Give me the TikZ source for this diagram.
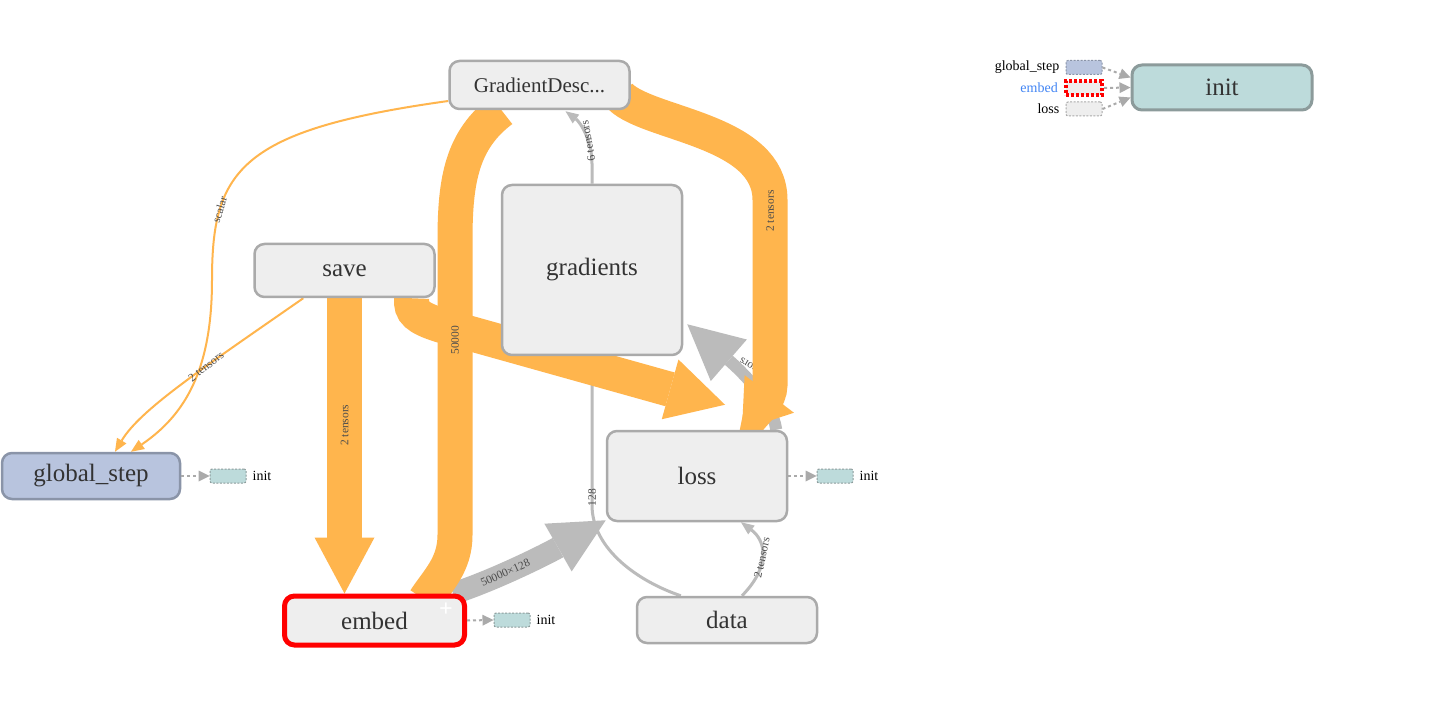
\documentclass[tikz,border=0pt]{standalone}
\usepackage{fontspec}
\setmainfont{Liberation Serif}
\usetikzlibrary{arrows.meta,positioning,calc}
\pgfdeclarelayer{paper}
\pgfdeclarelayer{edges}
\pgfsetlayers{paper,edges,main}
\definecolor{tforange}{HTML}{FFB54D}
\definecolor{tfgrey}{HTML}{BBBBBB}
\definecolor{nodefill}{HTML}{EEEEEE}
\definecolor{nodeline}{HTML}{AAAAAA}
\definecolor{inittint}{HTML}{BDDBDB}
\definecolor{initline}{HTML}{8C9B9B}
\definecolor{stepfill}{HTML}{B8C4DE}
\definecolor{stepline}{HTML}{8A94A8}
\definecolor{labelblue}{HTML}{4285F4}
\definecolor{txt}{HTML}{333333}

\begin{document}
\begin{tikzpicture}[x=1pt,y=-1pt,
  op/.style={draw=nodeline,line width=2.5pt,rounded corners=10pt,fill=nodefill,
    text=txt,font=\fontsize{25}{28}\selectfont,minimum width=180pt,
    minimum height=46pt,inner sep=0pt},
  stub/.style={draw=initline,dash pattern=on 2pt off 1.5pt,line width=1pt,
    rounded corners=2pt,fill=inittint,minimum width=36pt,minimum height=14pt,inner sep=0pt},
  tag/.style={font=\fontsize{14}{16}\selectfont,inner sep=0pt},
  elabel/.style={font=\fontsize{11.5}{13}\selectfont,text=black!70,inner sep=0pt},
  fat/.style={draw=tforange,line width=35pt},
  fatarr/.style={fat,-{Triangle[length=56pt,width=60pt,line width=0pt]}},
  thin/.style={draw=tforange,line width=2pt,-{Triangle[length=13pt,width=11pt,line width=0pt]}},
  ctrl/.style={draw=tfgrey,line width=3pt,-{Triangle[length=13pt,width=11pt,line width=0pt]}},
  ctrlfat/.style={draw=tfgrey,-{Triangle[length=55pt,width=55pt,line width=0pt]}},
  dep/.style={draw=nodeline,line width=2pt,dash pattern=on 3pt off 3pt,
    -{Triangle[length=11pt,width=11pt,line width=0pt]}},
]
\begin{pgfonlayer}{paper}
\fill[white] (0,0) rectangle (1432,708);
\end{pgfonlayer}
\useasboundingbox (0,0) rectangle (1432,708);

% main graph
\node[op,font=\fontsize{21}{24}\selectfont,minimum height=48pt] (gd) at (539.5,85) {GradientDesc...};
\node[op,minimum height=53pt] (save) at (344.5,270.5) {save};
\node[op,minimum height=170pt] (grads) at (592,270) {gradients};
\node[op,fill=stepfill,draw=stepline,minimum width=178pt] (gstep) at (91,476) {global\_step};
\node[op,minimum height=90pt] (loss) at (697,476) {loss};
\node[op,draw=red,line width=5pt,minimum height=49pt] (embed) at (374.5,620.5) {embed};
\node[op] (data) at (727,620) {data};
\node[text=white,font=\fontsize{24}{24}\selectfont\bfseries,inner sep=0pt] (embplus) at (446,610) {+};

% init dependencies
\node[stub] (gsinit) at (228,476) {};
\node[tag,right=6pt of gsinit] (gsinittxt) {init};
\node[stub] (lossinit) at (835,476) {};
\node[tag,right=6pt of lossinit] (lossinittxt) {init};
\node[stub] (embinit) at (512,620) {};
\node[tag,right=6pt of embinit] (embinittxt) {init};
\draw[dep] (gstep.east) -- (gsinit.west);
\draw[dep] (loss.east) -- (lossinit.west);
\draw[dep] (embed.east) -- (embinit.west);

% init node, top right
\node[op,fill=inittint,draw=initline,line width=3pt,minimum height=45pt] (init) at (1222,87.5) {init};
\node[stub,fill=stepfill,draw=stepline] (lgs) at (1084,67.5) {};
\node[stub,fill=nodefill,draw=red,line width=4pt,dash pattern=on 3pt off 2pt,rounded corners=0pt] (lemb) at (1084,88) {};
\node[stub,fill=nodefill,draw=nodeline] (lloss) at (1084,109) {};
\node[tag,left=6pt of lgs] (lgstxt) {global\_step};
\node[tag,left=6pt of lemb,text=labelblue] (lembtxt) {embed};
\node[tag,left=6pt of lloss] (llosstxt) {loss};
\draw[dep] (lgs.east) -- ($(init.west)+(0,-10)$);
\draw[dep] (lemb.east) -- (init.west);
\draw[dep] (lloss.east) -- ($(init.west)+(0,10)$);

\begin{pgfonlayer}{edges}
% grey edges
\draw[ctrl] (grads.north) -- ++(0,-20) .. controls (592,140) and (580,122) .. ($(gd.south)+(26,1)$)
  node[elabel,pos=0.35,rotate=100] {6 tensors};
\draw[ctrl] ($(data.north west)+(45,0)$) .. controls (640,582) and (592,550) .. (592,505)
  -- node[elabel,pos=0.05,rotate=90] {128} (grads.south);
\draw[ctrl] ($(data.north)+(15,0)$) .. controls (772,565) and (765,540) .. ($(loss.south)+(44,0)$)
  node[elabel,pos=0.45,rotate=78] {2 tensors};
\draw[ctrlfat,line width=12pt] ($(loss.north east)+(-12,0)$) .. controls (772,400) and (740,370) .. ($(grads.south east)+(4,-32)$);
\node[elabel,rotate=150] (sorslbl) at (758,371) {2 tensors};
\draw[ctrlfat,line width=22pt] ($(embed.north east)+(-14,0)$) .. controls (490,582) and (545,555) .. ($(loss.south west)+(0,-2)$)
  node[elabel,pos=0.4,rotate=24] {50000×128};
% orange edges
\draw[thin] ($(gd.west)+(0,16)$) .. controls (240,130) and (212,170) .. (212,280)
  node[elabel,pos=0.75,rotate=73] {scalar}
  .. controls (212,370) and (185,415) .. ($(gstep.north)+(40,0)$);
\draw[thin] ($(save.south west)+(50,0)$) .. controls (200,370) and (140,410) .. ($(gstep.north)+(24,0)$)
  node[elabel,pos=0.37,rotate=38] {2 tensors};
\draw[fatarr,-{Triangle[length=57pt,width=62pt,line width=0pt]}] ($(save.south east)+(-24,0)$) .. controls (410,312) and (418,318) .. (440,325)
  -- ($(loss.north)+(28,-25)$);
\draw[fatarr] (save.south) -- node[elabel,pos=0.43,rotate=90] {2 tensors} ($(embed.north)+(-30,0)$);
\draw[fat] ($(gd.south)+(-38,0)$) .. controls (462,140) and (455,180) .. (455,240)
  -- node[elabel,pos=0.34,rotate=90] {50000} (455,535)
  .. controls (455,565) and (438,580) .. (425,600);
\draw[fat,-{Triangle[length=45pt,width=62pt,line width=0pt]}] ($(gd.east)+(-10,12)$) .. controls (650,125) and (770,130) .. (770,200)
  -- node[elabel,pos=0.06,rotate=90] {2 tensors} (770,385)
  .. controls (770,400) and (754,414) .. ($(loss.north)+(45,0)$);
\end{pgfonlayer}
\end{tikzpicture}
\end{document}
